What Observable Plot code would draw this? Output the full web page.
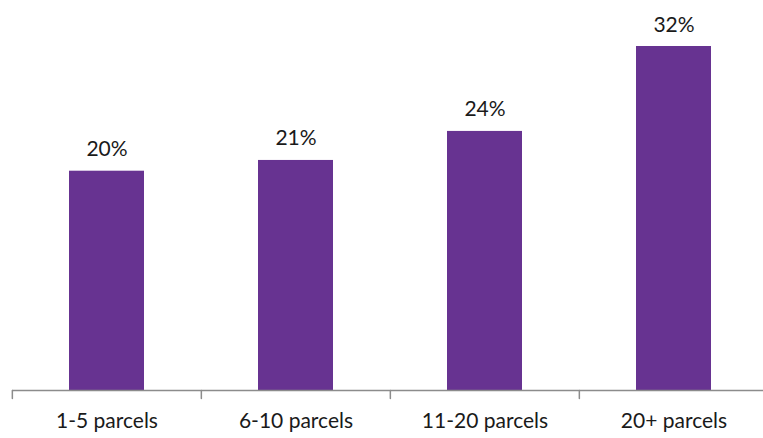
<!DOCTYPE html>
<html>
<head>
<meta charset="utf-8">
<script src="https://cdn.jsdelivr.net/npm/d3@7"></script>
<script src="https://cdn.jsdelivr.net/npm/@observablehq/plot@0.6"></script>
<style>
  html, body { margin: 0; padding: 0; background: #fff; }
  #chart svg { display: block; }
</style>
</head>
<body>
<div id="chart"></div>
<script>
const categories = ["1-5 parcels", "6-10 parcels", "11-20 parcels", "20+ parcels"];
const values = [20.4, 21.4, 24.1, 32.0];
const labels = ["20%", "21%", "24%", "32%"];

const data = categories.map((c, i) => ({category: c, value: values[i], label: labels[i]}));

const xRange = [11.8, 769];
const step = (xRange[1] - xRange[0]) / categories.length;
const purple = "#673391";
const grey = "#8c8c8c";
const font = "Lato, 'Open Sans', sans-serif";

const chart = Plot.plot({
  width: 763,
  height: 438,
  marginLeft: 12,
  marginRight: 0,
  marginTop: 0,
  marginBottom: 40,
  style: {fontFamily: font, background: "#fff", color: "#1a1a1a", overflow: "visible"},
  x: {domain: categories, range: xRange, paddingInner: 0.604, paddingOuter: 0.302},
  y: {domain: [0, 32], range: [390, 46], axis: null},
  marks: [
    Plot.barY(data, {x: "category", y: "value", fill: purple}),
    Plot.ruleY([0], {stroke: grey, strokeWidth: 1.5}),
    Plot.vector(categories, {
      x: d => d, y: 0, length: 8, rotate: 180, anchor: "start",
      dx: -step / 2, stroke: grey, strokeWidth: 1.5,
      shape: {draw(context, l) { context.moveTo(0, 0); context.lineTo(0, -l); }}
    }),
    Plot.text(data, {
      x: "category", y: "value", text: "label",
      dy: -15, lineAnchor: "bottom", fontSize: 21, fill: "#1a1a1a"
    }),
    Plot.axisX({tickSize: 0, tickPadding: 15, fontSize: 21, label: null, fill: "#1a1a1a"})
  ]
});
document.getElementById("chart").appendChild(chart);
</script>
</body>
</html>
